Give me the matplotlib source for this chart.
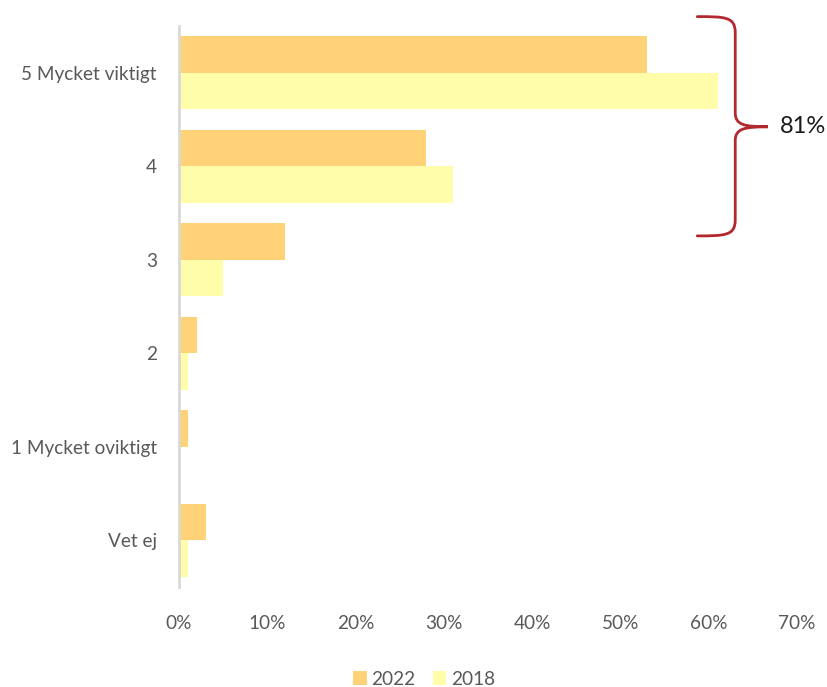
import matplotlib
matplotlib.use("Agg")
import matplotlib.pyplot as plt
from matplotlib.path import Path
from matplotlib.patches import PathPatch
import numpy as np

categories = ["5 Mycket viktigt", "4", "3", "2", "1 Mycket oviktigt", "Vet ej"]
values_2022 = [53, 28, 12, 2, 1, 3]
values_2018 = [61, 31, 5, 1, 0, 1]
series_labels = ["2022", "2018"]
xticks = [0, 10, 20, 30, 40, 50, 60, 70]
bracket_label = "81%"

col_2022 = "#FFD278"
col_2018 = "#FFFDAA"
text_col = "#595959"

plt.rcParams["font.family"] = ["Lato", "DejaVu Sans"]

fig = plt.figure(figsize=(8.28, 6.87), dpi=100)
ax = fig.add_axes([0.2162, 0.1456, 0.7464, 0.8166])

y = np.arange(len(categories))
h = 0.39
ax.barh(y - h / 2, values_2022, height=h, color=col_2022, label=series_labels[0])
ax.barh(y + h / 2, values_2018, height=h, color=col_2018, label=series_labels[1])

ax.set_xlim(0, 70)
ax.set_ylim(len(categories) - 0.5, -0.5)
ax.set_yticks(y)
ax.set_yticklabels(categories)
ax.set_xticks(xticks)
ax.set_xticklabels([f"{t}%" for t in xticks])
ax.tick_params(axis="both", length=0, labelsize=13.7, colors=text_col)
ax.tick_params(axis="y", pad=16)
ax.tick_params(axis="x", pad=20)

for s in ["top", "right", "bottom"]:
    ax.spines[s].set_visible(False)
ax.spines["left"].set_color("#D9D9D9")
ax.spines["left"].set_linewidth(2)

# curly bracket grouping the two top categories
x0, xv, xt = 58.7, 63.0, 66.7
y0, ym, y1 = -0.6, 0.578, 1.745
verts = [
    (x0, y0), (61.8, y0), (xv, y0), (xv, y0 + 0.17),
    (xv, ym - 0.15),
    (xv, ym - 0.02), (64.0, ym), (xt, ym),
    (64.0, ym), (xv, ym + 0.02), (xv, ym + 0.15),
    (xv, y1 - 0.17),
    (xv, y1), (61.8, y1), (x0, y1),
]
codes = [Path.MOVETO, Path.CURVE4, Path.CURVE4, Path.CURVE4,
         Path.LINETO,
         Path.CURVE4, Path.CURVE4, Path.CURVE4,
         Path.CURVE4, Path.CURVE4, Path.CURVE4,
         Path.LINETO,
         Path.CURVE4, Path.CURVE4, Path.CURVE4]
brace = PathPatch(Path(verts, codes), fill=False, edgecolor="#B3282E",
                  linewidth=2, clip_on=False, capstyle="round")
ax.add_patch(brace)
ax.text(68.1, ym, bracket_label, fontsize=17, color="#1a1a1a",
        va="center", ha="left", clip_on=False)

leg = fig.legend(loc="lower center", bbox_to_anchor=(0.512, -0.026), ncol=2,
                 frameon=False, fontsize=13.7, handlelength=0.7, handleheight=0.7,
                 handletextpad=0.25, columnspacing=0.9)
for t in leg.get_texts():
    t.set_color(text_col)

fig.savefig("out.png", dpi=100, facecolor="white")
